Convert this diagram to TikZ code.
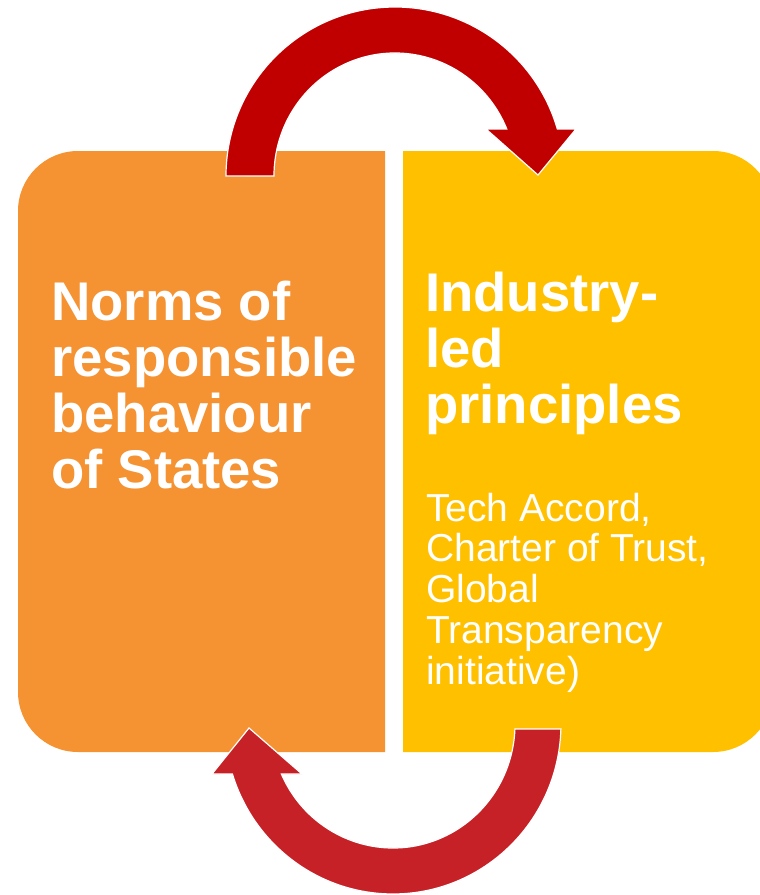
\documentclass[tikz,border=0pt]{standalone}
\usepackage{fontspec}
\setmainfont{Liberation Sans}
\definecolor{normorange}{HTML}{F59232}
\definecolor{industryyellow}{HTML}{FFC000}
\definecolor{topred}{HTML}{C00000}
\definecolor{bottomred}{HTML}{C52127}

\begin{document}
\begin{tikzpicture}[x=1pt, y=-1pt,
  heading/.style={anchor=base west, inner sep=0pt, text=white, align=left,
    font=\fontsize{54.5}{56}\selectfont\bfseries},
  detail/.style={anchor=base west, inner sep=0pt, text=white, align=left,
    font=\fontsize{39}{40.7}\selectfont},
  cyclearrow/.style={draw=white, line width=1.2pt, line join=miter}]
  \useasboundingbox (0,0) rectangle (760,895);
  \clip (0,0) rectangle (760,895);

  % left box
  \fill[normorange] (385,151) -- (78,151) arc[start angle=270, end angle=180, radius=60]
    -- (18,692) arc[start angle=180, end angle=90, radius=60] -- (385,752) -- cycle;

  % right box
  \fill[industryyellow] (403,151) -- (713,151) arc[start angle=270, end angle=360, radius=60]
    -- (773,692) arc[start angle=0, end angle=90, radius=60] -- (403,752) -- cycle;

  % top arrow
  \fill[topred, cyclearrow] (226,176) arc[start angle=180, end angle=343.85, radius=169]
    -- (576,129) -- (538,175) -- (486,129) -- (506.8,129)
    arc[start angle=337.54, end angle=180, x radius=121, y radius=123] -- cycle;

  % bottom arrow
  \fill[bottomred, cyclearrow] (560.9,729) arc[start angle=1.69, end angle=162.9, x radius=168, y radius=170]
    -- (212,774) -- (249,728) -- (302,774) -- (281.4,774)
    arc[start angle=156.22, end angle=2.31, x radius=122, y radius=124] -- cycle;

  % texts (base = last line)
  \node[heading] (norms) at (51,488) {Norms of\\responsible\\behaviour\\of States};
  \node[heading] (industry) at (425,423) {Industry-\\led\\principles};
  \node[detail] (examples) at (426,684) {Tech Accord,\\Charter of Trust,\\Global\\Transparency\\initiative)};
\end{tikzpicture}
\end{document}
